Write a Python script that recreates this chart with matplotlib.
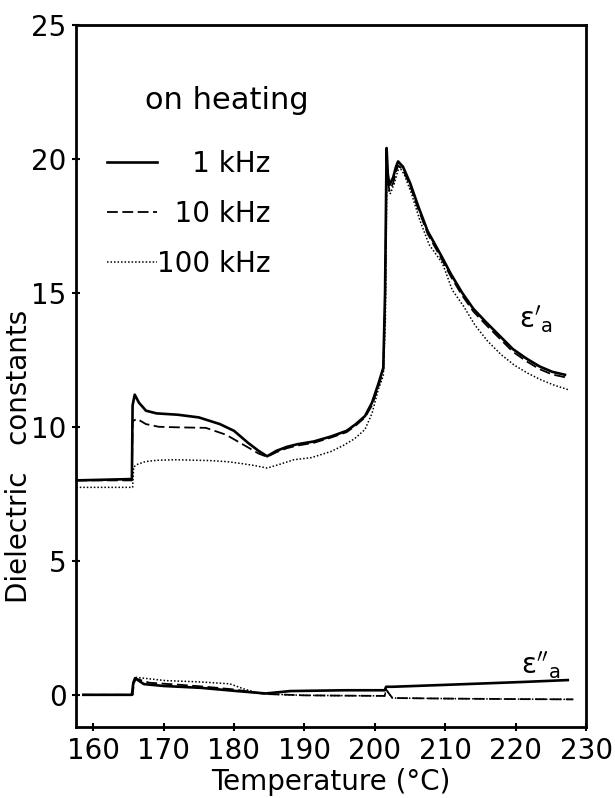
"""Dielectric constants vs temperature, on heating, at three frequencies."""
import matplotlib
matplotlib.use("Agg")
import matplotlib.pyplot as plt

plt.rcParams['font.family'] = ['DejaVu Sans']
plt.rcParams['mathtext.fontset'] = 'dejavusans'

# eps' (real part), 1 kHz
t_real_1k = [157.6, 165.5, 165.6, 165.9, 166.5, 167.5, 169, 172, 175, 178, 180, 182,
             183.5, 184.7, 186, 187.5, 189, 191.3, 193.8, 196, 197.3, 198.6, 199.6,
             200.5, 201.2, 201.45, 201.67, 201.85, 202.1, 202.6, 203.0, 203.3,
             204, 205, 206.2, 207.5, 209.6, 210.8, 212.4, 214, 215.8, 217.7, 219.6,
             221.5, 223.4, 225.2, 227]
e_real_1k = [8.0, 8.05, 10.8, 11.2, 10.9, 10.6, 10.5, 10.45, 10.35, 10.1, 9.85, 9.4,
             9.1, 8.9, 9.1, 9.25, 9.35, 9.45, 9.64, 9.85, 10.1, 10.4, 10.9,
             11.6, 12.2, 15.0, 20.4, 19.4, 19.03, 19.3, 19.7, 19.9,
             19.7, 19.1, 18.2, 17.3, 16.3, 15.7, 15.0, 14.4, 13.9, 13.4, 12.9,
             12.55, 12.25, 12.05, 11.94]

# eps' (real part), 10 kHz
t_real_10k = [157.6, 165.5, 165.6, 166.2, 167.5, 169.3, 172, 176, 178.9, 181.8, 183.5,
              184.7, 186, 187.5, 189, 191.3, 193.8, 196, 197.3, 198.6, 199.6, 200.5,
              201.2, 201.45, 201.67, 201.85, 202.1, 202.6, 203.0, 203.3, 204,
              205, 206.2, 207.5, 209.6, 210.8, 212.4, 214, 215.8, 217.7, 219.6, 221.5,
              223.4, 225.2, 227]
e_real_10k = [8.0, 8.0, 10.2, 10.3, 10.1, 10.0, 9.98, 9.96, 9.7, 9.26, 9.0,
              8.88, 9.05, 9.2, 9.3, 9.4, 9.6, 9.8, 10.05, 10.35, 10.8, 11.5,
              12.1, 14.5, 19.9, 19.1, 18.8, 19.1, 19.5, 19.75, 19.6,
              19.0, 18.1, 17.2, 16.2, 15.6, 14.9, 14.3, 13.8, 13.3, 12.8, 12.45,
              12.15, 11.95, 11.85]

# eps' (real part), 100 kHz
t_real_100k = [157.6, 165.6, 165.75, 166.3, 167.4, 169, 171.7, 176.5, 179, 181.3, 183,
               184.7, 186.5, 188.5, 191, 193.8, 195.5, 197.1, 198.6, 199.6, 200.5,
               201.2, 201.5, 201.7, 201.95, 202.2, 202.8, 203.2, 203.5, 204.2,
               205.2, 206.4, 207.7, 209.6, 211, 212.6, 214.2, 216, 217.9, 219.8,
               221.7, 223.6, 225.5, 227.5]
e_real_100k = [7.74, 7.74, 8.5, 8.6, 8.7, 8.75, 8.77, 8.74, 8.7, 8.62, 8.55,
               8.46, 8.6, 8.77, 8.85, 9.08, 9.3, 9.55, 9.9, 10.5, 11.4,
               11.9, 14.0, 18.9, 18.8, 18.7, 19.1, 19.5, 19.7, 19.4,
               18.7, 17.7, 16.8, 16.1, 15.1, 14.5, 13.8, 13.2, 12.7, 12.3,
               12.0, 11.75, 11.55, 11.38]

# eps'' (imaginary part)
t_imag_1k = [158.6, 165.5, 165.7, 165.95, 167.2, 170, 175.3, 180.4, 184.5, 188,
             195.7, 201.4, 201.6, 202.5, 210.9, 221.1, 227.4]
e_imag_1k = [0.0, 0.0, 0.45, 0.62, 0.4, 0.33, 0.26, 0.14, 0.05, 0.14,
             0.17, 0.17, 0.3, 0.3, 0.38, 0.48, 0.55]

t_imag_10k = [158.6, 165.6, 165.8, 166.1, 168, 172, 176, 180, 184.5, 190, 195,
              201.4, 201.6, 202.0, 202.5, 210, 220, 228.2]
e_imag_10k = [0.0, 0.0, 0.45, 0.6, 0.45, 0.38, 0.3, 0.2, 0.03, -0.02, -0.03,
              -0.04, 0.2, 0.05, -0.12, -0.14, -0.16, -0.17]

t_imag_100k = [158.6, 165.6, 165.8, 166.1, 170.3, 175.3, 179.4, 181.4, 183, 184.5,
               190, 195, 201.4, 201.6, 202.0, 202.5, 210, 220, 228.2]
e_imag_100k = [0.0, 0.0, 0.5, 0.65, 0.53, 0.48, 0.41, 0.22, 0.1, 0.03,
               -0.02, -0.03, -0.04, 0.2, 0.05, -0.12, -0.14, -0.16, -0.17]

freq_labels = ['\u2007\u20071 kHz', '\u200710 kHz', '100 kHz']
x_ticks = [160, 170, 180, 190, 200, 210, 220, 230]
y_ticks = [0, 5, 10, 15, 20, 25]

solid = dict(color='black', lw=1.9, linestyle='-')
dashed = dict(color='black', lw=1.3, linestyle=(0, (6, 2.5)))
dotted = dict(color='black', lw=1.1, linestyle=(0, (1, 1.3)))

fig = plt.figure(figsize=(6.15, 7.98), dpi=100)
ax = fig.add_axes([0.124, 0.089, 0.829, 0.880])

l1, = ax.plot(t_real_1k, e_real_1k, label=freq_labels[0], **solid)
l2, = ax.plot(t_real_10k, e_real_10k, label=freq_labels[1], **dashed)
l3, = ax.plot(t_real_100k, e_real_100k, label=freq_labels[2], **dotted)
ax.plot(t_imag_10k, e_imag_10k, **dashed)
ax.plot(t_imag_100k, e_imag_100k, **dotted)
ax.plot(t_imag_1k, e_imag_1k, **solid)

ax.set_xlim(157.6, 230)
ax.set_ylim(-1.2, 25)
ax.set_xticks(x_ticks)
ax.set_yticks(y_ticks)
ax.tick_params(direction='inout', length=6, width=1.5, labelsize=20, pad=4)
for lab in ax.get_xticklabels():
    lab.set_family('DejaVu Sans Condensed')
for sp in ax.spines.values():
    sp.set_linewidth(2)

ax.set_xlabel('Temperature (°C)', fontsize=20)
ax.xaxis.set_label_coords(0.5, -0.058)
ax.set_ylabel('Dielectric   constants', fontsize=20, va='center')
ax.yaxis.set_label_coords(-0.112, 0.386)

ax.text(0.135, 0.880, 'on heating', transform=ax.transAxes, fontsize=22,
        va='baseline')
ax.legend(handles=[l1, l2, l3], loc='upper left', bbox_to_anchor=(0.061, 0.822),
          frameon=False, fontsize=20, handlelength=1.8, handletextpad=0.0,
          labelspacing=0.8, borderpad=0, borderaxespad=0)

ax.text(222.9, 14.0, r"$\mathrm{\varepsilon}'_{\mathrm{a}}$", ha='center',
        va='center', fontsize=20)
ax.text(223.6, 1.1, r"$\mathrm{\varepsilon}''_{\mathrm{a}}$", ha='center',
        va='center', fontsize=20)

fig.savefig('out.png', dpi=100)
